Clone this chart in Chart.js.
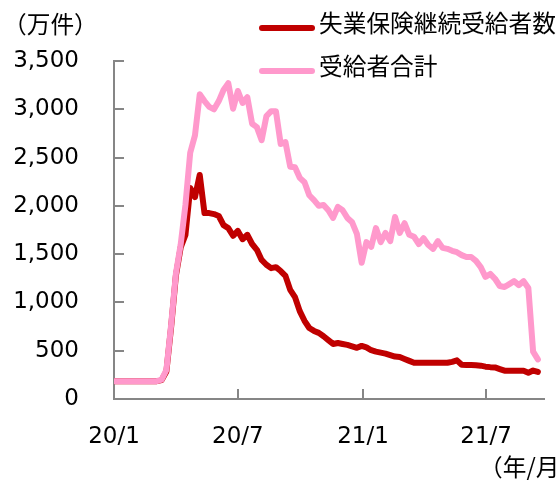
<!DOCTYPE html>
<html><head><meta charset="utf-8">
<script src="https://cdn.jsdelivr.net/npm/chart.js@4.4.1/dist/chart.umd.min.js"></script>
<style>
html,body{margin:0;padding:0;background:#fff;}
#wrap{position:relative;width:559px;height:480px;overflow:hidden;background:#fff;}
#c{position:absolute;left:0;top:0;}
.t{position:absolute;font-family:"Noto Sans CJK JP",sans-serif;font-size:23.7px;line-height:30px;white-space:nowrap;color:#000;}
.sw{position:absolute;height:6px;width:56px;border-radius:3px;}
</style></head>
<body>
<div id="wrap"><canvas id="c" width="559" height="480"></canvas></div>
<script>
// ---- data ----
const weeks = [
 '2020-01-01','2020-01-08','2020-01-15','2020-01-22','2020-01-29','2020-02-05','2020-02-12','2020-02-19','2020-02-26','2020-03-04',
 '2020-03-11','2020-03-18','2020-03-25','2020-04-01','2020-04-08','2020-04-15','2020-04-22','2020-04-29','2020-05-06','2020-05-13',
 '2020-05-20','2020-05-27','2020-06-03','2020-06-10','2020-06-17','2020-06-24','2020-07-01','2020-07-08','2020-07-15','2020-07-22',
 '2020-07-29','2020-08-05','2020-08-12','2020-08-19','2020-08-26','2020-09-02','2020-09-09','2020-09-16','2020-09-23','2020-09-30',
 '2020-10-07','2020-10-14','2020-10-21','2020-10-28','2020-11-04','2020-11-11','2020-11-18','2020-11-25','2020-12-02','2020-12-09',
 '2020-12-16','2020-12-23','2020-12-30','2021-01-06','2021-01-13','2021-01-20','2021-01-27','2021-02-03','2021-02-10','2021-02-17',
 '2021-02-24','2021-03-03','2021-03-10','2021-03-17','2021-03-24','2021-03-31','2021-04-07','2021-04-14','2021-04-21','2021-04-28',
 '2021-05-05','2021-05-12','2021-05-19','2021-05-26','2021-06-02','2021-06-09','2021-06-16','2021-06-23','2021-06-30','2021-07-07',
 '2021-07-14','2021-07-21','2021-07-28','2021-08-04','2021-08-11','2021-08-18','2021-08-25','2021-09-01','2021-09-08','2021-09-15'
];
const continuedClaims = [
 185,185,185,185,185,185,185,185,185,185,
 195,285,750,1280,1570,1700,2185,2090,2320,1925,
 1925,1915,1895,1800,1770,1690,1740,1655,1700,1605,
 1545,1440,1390,1355,1365,1325,1275,1130,1055,910,
 810,735,705,685,650,610,570,580,570,560,
 545,530,550,535,505,490,480,470,455,440,
 435,415,395,375,375,375,375,375,375,375,
 375,385,400,355,352,352,350,345,335,330,
 327,310,293,293,293,293,293,272,295,280
];
const totalClaims = [
 185,185,185,185,185,185,185,185,185,185,
 200,300,770,1300,1600,2010,2550,2730,3155,3085,
 3025,3000,3085,3200,3270,3005,3190,3065,3125,2850,
 2815,2680,2930,2980,2980,2640,2660,2405,2400,2290,
 2245,2110,2060,2000,2010,1955,1875,1990,1955,1875,
 1830,1710,1410,1625,1575,1770,1625,1720,1635,1885,
 1720,1820,1700,1680,1605,1665,1595,1555,1635,1565,
 1555,1535,1520,1490,1470,1470,1430,1365,1265,1295,
 1245,1170,1160,1190,1220,1180,1220,1150,490,410
];
const seriesNames = ['失業保険継続受給者数', '受給者合計'];
const seriesColors = ['#C00000', '#FF99CC'];
const xTickDates = ['2020-01-01', '2020-07-01', '2021-01-01', '2021-07-01'];
const xTickLabels = ['20/1', '20/7', '21/1', '21/7'];
const xAxisStart = '2020-01-01';
const xAxisEnd = '2021-09-24';
const yTicks = [0, 500, 1000, 1500, 2000, 2500, 3000, 3500];
const yUnit = '（万件）';
const xUnit = '（年/月）';

// ---- helpers ----
function dayOf(s) {
  const p = s.split('-').map(Number);
  return (Date.UTC(p[0], p[1] - 1, p[2]) - Date.UTC(2020, 0, 1)) / 86400000;
}
const xs = weeks.map(dayOf);
const tickDays = xTickDates.map(dayOf);

const AXIS = '#868686';
const TICKFONT = {family: '"DejaVu Sans", "Noto Sans CJK JP", sans-serif', size: 23};

const inwardTicks = {
  id: 'inwardTicks',
  afterDraw(chart) {
    const {ctx, chartArea, scales} = chart;
    ctx.save();
    ctx.strokeStyle = AXIS;
    ctx.lineWidth = 2;
    ctx.beginPath();
    scales.y.ticks.forEach(t => {
      if (t.value === 0) return;
      const y = Math.round(scales.y.getPixelForValue(t.value));
      ctx.moveTo(chartArea.left, y);
      ctx.lineTo(chartArea.left + 10, y);
    });
    scales.x.ticks.forEach(t => {
      if (t.value === tickDays[0]) return;
      const x = Math.round(scales.x.getPixelForValue(t.value));
      ctx.moveTo(x, chartArea.bottom);
      ctx.lineTo(x, chartArea.bottom - 10);
    });
    ctx.stroke();
    ctx.restore();
  }
};

function mk(vals) { return vals.map((v, i) => ({x: xs[i], y: v})); }

new Chart(document.getElementById('c'), {
  type: 'line',
  data: {
    datasets: [
      {label: seriesNames[0], data: mk(continuedClaims), borderColor: seriesColors[0], order: 1},
      {label: seriesNames[1], data: mk(totalClaims), borderColor: seriesColors[1], order: 0}
    ]
  },
  options: {
    responsive: false,
    animation: false,
    devicePixelRatio: 1,
    layout: {padding: {top: 61, right: 15, left: 0, bottom: 0}},
    elements: {
      line: {borderWidth: 6, tension: 0, borderCapStyle: 'round', borderJoinStyle: 'round', fill: false},
      point: {radius: 0, hoverRadius: 0}
    },
    plugins: {legend: {display: false}, tooltip: {enabled: false}, title: {display: false}},
    scales: {
      x: {
        type: 'linear',
        min: dayOf(xAxisStart), max: dayOf(xAxisEnd),
        afterBuildTicks: s => { s.ticks = tickDays.map(v => ({value: v})); },
        afterFit: s => { s.height = 81; },
        grid: {display: true, drawOnChartArea: false, drawTicks: false},
        border: {display: true, color: AXIS, width: 2},
        ticks: {
          font: TICKFONT, color: '#000', padding: 24, maxRotation: 0, autoSkip: false,
          callback: v => { const i = tickDays.indexOf(v); return i >= 0 ? xTickLabels[i] : ''; }
        }
      },
      y: {
        type: 'linear',
        min: yTicks[0], max: yTicks[yTicks.length - 1],
        afterBuildTicks: s => { s.ticks = yTicks.map(v => ({value: v})); },
        afterFit: s => { s.width = 114; },
        grid: {display: true, drawOnChartArea: false, drawTicks: false},
        border: {display: true, color: AXIS, width: 2},
        ticks: {
          font: TICKFONT, color: '#000', padding: 35,
          callback: v => v.toLocaleString('en-US')
        }
      }
    }
  },
  plugins: [inwardTicks]
});

// ---- legend & unit labels (HTML text) ----
const wrap = document.getElementById('wrap');
function addText(txt, left, top) {
  const d = document.createElement('div');
  d.className = 't'; d.textContent = txt;
  d.style.left = left + 'px'; d.style.top = top + 'px';
  wrap.appendChild(d);
}
function addSwatch(color, left, top) {
  const d = document.createElement('div');
  d.className = 'sw'; d.style.background = color;
  d.style.left = left + 'px'; d.style.top = top + 'px';
  wrap.appendChild(d);
}
addText(yUnit, 3, 8);
addText(xUnit, 479, 451);
const legendRows = [7, 50];
seriesNames.forEach((n, i) => {
  addSwatch(seriesColors[i], 259, legendRows[i] + 18);
  addText(n, 319, legendRows[i]);
});
</script>
</body></html>
